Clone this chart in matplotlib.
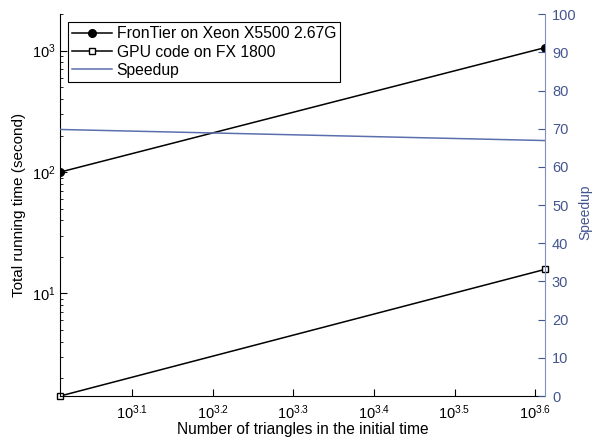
import numpy as np
import matplotlib
matplotlib.use('Agg')
import matplotlib.pyplot as plt
from matplotlib.ticker import FixedLocator, FixedFormatter, LogLocator, NullLocator

plt.rcParams['font.family'] = ['Liberation Sans', 'DejaVu Sans']
plt.rcParams['mathtext.fontset'] = 'custom'
plt.rcParams['mathtext.rm'] = 'Liberation Sans'
plt.rcParams['mathtext.it'] = 'Liberation Sans'

# data
triangles = [1024, 4096]
frontier_time = [100, 1060]
gpu_time = [1.43, 15.8]
speedup = [69.8, 66.9]

xtick_exp = [3.1, 3.2, 3.3, 3.4, 3.5, 3.6]
speed_ticks = list(range(0, 101, 10))

blue = '#5a6fae'
blue_txt = '#44558f'

fig = plt.figure(figsize=(5.95, 4.42), dpi=100)
ax = fig.add_axes([0.101, 0.104, 0.815, 0.864])

l1, = ax.plot(triangles, frontier_time, '-o', color='black', lw=1.1,
              ms=5.5, mfc='black', label='FronTier on Xeon X5500 2.67G')
l2, = ax.plot(triangles, gpu_time, '-s', color='black', lw=1.1,
              ms=5, mfc='white', mew=1.0, label='GPU code on FX 1800', clip_on=False)
ax.set_xscale('log')
ax.set_yscale('log')
ax.set_xlim(1024, 4096)
ax.set_ylim(1.43, 2000)

ax.xaxis.set_major_locator(FixedLocator([10 ** e for e in xtick_exp]))
ax.xaxis.set_major_formatter(FixedFormatter(['$10^{%g}$' % e for e in xtick_exp]))
ax.xaxis.set_minor_locator(NullLocator())
ax.yaxis.set_major_locator(LogLocator(base=10))
ax.yaxis.set_minor_locator(LogLocator(base=10, subs=np.arange(2, 10)))

ax.tick_params(which='both', direction='in', labelsize=10.5, top=False)
ax.tick_params(which='major', length=5)
ax.tick_params(which='minor', length=2.5)
ax.tick_params(axis='x', pad=5)
ax.spines['top'].set_visible(False)
ax.spines['right'].set_visible(False)

ax.set_xlabel('Number of triangles in the initial time', fontsize=11.2, labelpad=0)
ax.set_ylabel('Total running time (second)', fontsize=11, labelpad=4)

ax2 = ax.twinx()
l3, = ax2.plot(triangles, speedup, '-', color=blue, lw=1.1, label='Speedup')
ax2.set_ylim(0, 100)
ax2.set_yticks(speed_ticks)
ax2.tick_params(direction='in', length=5, labelsize=10.5, colors=blue_txt, pad=5)
ax2.spines['top'].set_visible(False)
ax2.spines['left'].set_visible(False)
ax2.spines['bottom'].set_visible(False)
ax2.spines['right'].set_color('#8090b8')

# right axis label, reads bottom to top
fig.text(585 / 595, 1 - 212 / 442, 'Speedup', rotation=90, fontsize=10,
         color=blue_txt, ha='center', va='center')

leg = ax2.legend(handles=[l1, l2, l3], loc='upper left',
                 bbox_to_anchor=(0.0165, 0.979), fontsize=11.3, fancybox=False,
                 edgecolor='black', framealpha=1, borderpad=0.25,
                 handlelength=2.55, handletextpad=0.3, labelspacing=0.22,
                 borderaxespad=0)
leg.get_frame().set_linewidth(0.8)

fig.savefig('out.png', dpi=100)
